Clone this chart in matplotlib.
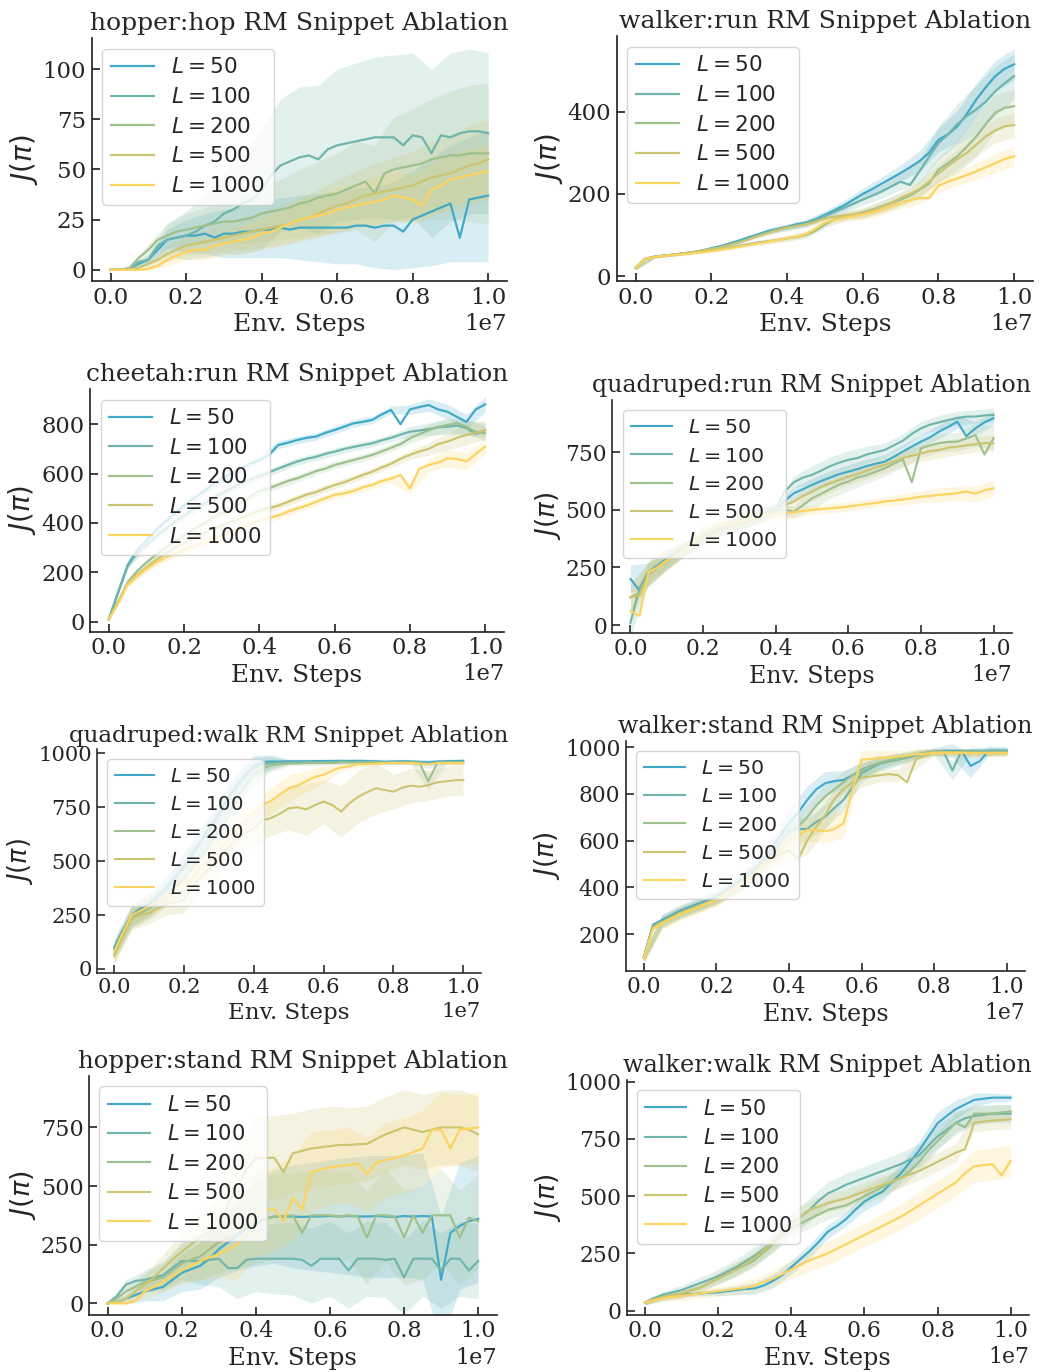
import numpy as np
import matplotlib
matplotlib.use("Agg")
import matplotlib.pyplot as plt

# ---------------- data ----------------
labels = ["$L = 50$", "$L = 100$", "$L = 200$", "$L = 500$", "$L = 1000$"]
colors = ["#41a9c8", "#6fb5ab", "#9dc08d", "#cbc470", "#fcd35f"]

steps_line = np.linspace(0, 1e7, 41)   # env steps where the mean curves are read
steps_band = np.linspace(0, 1e7, 21)   # env steps where the band half-widths are read

titles = ["hopper:hop", "walker:run", "cheetah:run", "quadruped:run",
          "quadruped:walk", "walker:stand", "hopper:stand", "walker:walk"]

hopper_hop_mean = [
    [0, 0, 0.5, 3, 5, 10, 15, 16, 17, 17, 18, 16, 18, 18, 19, 19, 20, 20, 21, 20, 21, 21, 21, 21, 21, 21, 22, 22, 21, 22, 22, 19, 25, 27, 29, 31, 33, 16, 35, 36, 37],
    [0, 0, 0.5, 4, 5, 12, 15, 16, 17, 19, 22, 24, 28, 30, 33, 35, 40, 47, 52, 54, 56, 57, 55, 60, 62, 63, 64, 65, 66, 66, 66, 62, 67, 66, 58, 67, 66, 68, 69, 69, 68],
    [0, 0, 1, 6, 10, 15, 17, 19, 20, 21, 22, 23, 24, 24, 25, 26, 28, 29, 30, 31, 33, 34, 36, 37, 38, 40, 42, 44, 38, 48, 50, 51, 52, 53, 55, 56, 57, 57, 58, 58, 58],
    [0, 0, 0, 1, 3, 5, 8, 10, 12, 13, 14, 15, 16, 17, 18, 19, 20, 21, 22, 23, 25, 26, 28, 30, 32, 33, 35, 37, 38, 39, 40, 41, 42, 44, 46, 47, 48, 50, 52, 53, 55],
    [0, 0, 0, 0, 0.5, 2, 5, 7, 9, 10, 10, 12, 13, 14, 15, 16, 18, 19, 21, 23, 25, 26, 27, 28, 30, 31, 32, 33, 34, 35, 37, 36, 35, 32, 40, 42, 45, 46, 47, 48, 49],
]
hopper_hop_band = [
    [0, 0, 2, 5, 8, 10, 12, 13, 14, 15, 16, 17, 18, 19, 20, 22, 24, 27, 29, 31, 33],
    [0, 0, 3, 8, 12, 16, 20, 25, 30, 33, 35, 37, 38, 39, 40, 41, 41, 42, 42, 41, 40],
    [0, 0, 3, 6, 8, 9, 10, 12, 14, 15, 17, 18, 20, 22, 24, 26, 28, 30, 32, 34, 35],
    [0, 0, 2, 4, 5, 6, 7, 8, 9, 10, 11, 12, 13, 14, 15, 16, 17, 18, 19, 20, 20],
    [0, 0, 1, 3, 4, 5, 6, 7, 8, 9, 10, 10, 11, 11, 12, 12, 12, 13, 13, 13, 13],
]

walker_run_mean = [
    [20, 42, 47, 50, 52, 55, 58, 62, 68, 73, 80, 87, 95, 102, 110, 115, 120, 126, 130, 138, 149, 160, 172, 186, 200, 212, 225, 238, 251, 265, 280, 300, 332, 345, 365, 395, 430, 460, 487, 505, 516],
    [20, 42, 47, 50, 52, 55, 58, 62, 67, 72, 78, 85, 92, 100, 108, 114, 118, 123, 128, 136, 146, 156, 166, 176, 186, 196, 206, 218, 230, 222, 255, 290, 324, 345, 370, 390, 406, 425, 450, 470, 487],
    [20, 42, 47, 50, 52, 55, 57, 60, 62, 66, 70, 74, 78, 82, 85, 88, 92, 95, 100, 110, 125, 138, 145, 150, 155, 162, 170, 178, 186, 196, 210, 225, 259, 275, 292, 315, 340, 370, 398, 410, 414],
    [20, 42, 47, 50, 52, 55, 58, 62, 66, 70, 76, 82, 90, 98, 105, 112, 118, 122, 126, 132, 140, 145, 148, 150, 152, 160, 168, 178, 190, 200, 212, 230, 250, 268, 285, 300, 320, 340, 355, 365, 368],
    [20, 42, 46, 49, 51, 53, 55, 58, 61, 64, 68, 72, 76, 80, 84, 88, 92, 96, 102, 115, 130, 137, 142, 146, 150, 155, 162, 170, 178, 185, 190, 190, 220, 230, 238, 246, 255, 265, 275, 285, 292],
]
walker_run_band = [
    [5, 3, 3, 3, 3, 4, 5, 6, 7, 8, 10, 12, 14, 16, 20, 25, 30, 38, 40, 38, 38],
    [5, 3, 3, 3, 3, 4, 5, 6, 7, 8, 10, 12, 14, 16, 20, 28, 40, 50, 60, 60, 55],
    [5, 3, 3, 3, 3, 4, 5, 6, 7, 8, 8, 10, 12, 14, 16, 20, 30, 40, 50, 45, 40],
    [5, 3, 3, 3, 3, 4, 5, 6, 7, 8, 8, 10, 12, 14, 16, 18, 22, 25, 28, 30, 30],
    [5, 3, 3, 3, 3, 4, 5, 6, 7, 8, 8, 10, 12, 12, 14, 14, 16, 18, 20, 22, 24],
]

cheetah_run_mean = [
    [10, 120, 230, 290, 330, 370, 405, 440, 470, 500, 525, 555, 580, 600, 620, 640, 655, 675, 716, 725, 736, 745, 750, 765, 777, 790, 804, 810, 818, 840, 858, 800, 860, 870, 878, 860, 851, 830, 810, 860, 881],
    [10, 120, 225, 280, 310, 345, 375, 405, 430, 455, 475, 500, 520, 540, 560, 575, 590, 605, 620, 635, 649, 660, 668, 680, 689, 700, 708, 716, 723, 735, 745, 758, 770, 775, 780, 788, 790, 795, 785, 760, 777],
    [10, 80, 160, 205, 240, 270, 300, 325, 350, 375, 395, 420, 440, 460, 480, 505, 530, 540, 555, 570, 581, 595, 610, 620, 635, 645, 655, 665, 676, 690, 705, 720, 743, 760, 775, 790, 797, 805, 790, 770, 763],
    [10, 80, 155, 190, 220, 250, 275, 300, 320, 340, 355, 375, 390, 405, 420, 435, 450, 460, 470, 485, 500, 515, 525, 540, 554, 565, 580, 595, 608, 625, 640, 660, 676, 690, 700, 720, 730, 745, 757, 765, 777],
    [10, 75, 150, 185, 215, 240, 260, 275, 290, 305, 320, 335, 350, 365, 380, 395, 410, 420, 430, 445, 459, 470, 485, 500, 514, 520, 530, 545, 554, 570, 580, 595, 540, 620, 635, 645, 662, 660, 649, 680, 709],
]
cheetah_run_band = [
    [5, 10, 15, 15, 15, 15, 15, 15, 15, 15, 15, 15, 15, 15, 15, 15, 20, 25, 30, 30, 30],
    [5, 10, 15, 15, 15, 15, 15, 15, 15, 15, 15, 15, 15, 15, 15, 15, 20, 25, 30, 30, 30],
    [5, 10, 15, 15, 15, 15, 15, 15, 15, 15, 15, 15, 15, 15, 15, 15, 20, 25, 30, 30, 30],
    [5, 10, 15, 15, 15, 15, 15, 15, 15, 15, 15, 15, 15, 15, 15, 15, 20, 25, 35, 40, 40],
    [5, 10, 15, 15, 15, 15, 15, 15, 15, 15, 15, 15, 15, 15, 15, 15, 20, 25, 35, 35, 30],
]

quadruped_run_mean = [
    [200, 150, 220, 250, 280, 300, 330, 360, 380, 400, 415, 430, 440, 455, 470, 485, 500, 540, 572, 590, 608, 625, 640, 655, 666, 677, 690, 700, 709, 730, 753, 775, 796, 815, 840, 860, 883, 820, 854, 880, 898],
    [10, 160, 230, 260, 290, 310, 335, 365, 385, 405, 420, 435, 445, 460, 475, 490, 505, 580, 620, 640, 652, 670, 690, 705, 717, 725, 740, 750, 760, 780, 800, 830, 854, 870, 880, 890, 898, 905, 905, 910, 912],
    [120, 140, 220, 250, 280, 300, 330, 360, 380, 400, 415, 430, 440, 455, 470, 485, 500, 500, 492, 520, 550, 570, 590, 610, 623, 640, 650, 665, 680, 700, 720, 620, 767, 780, 790, 795, 796, 810, 825, 740, 811],
    [120, 130, 220, 250, 280, 300, 330, 360, 380, 400, 415, 430, 440, 455, 470, 485, 500, 520, 536, 560, 579, 600, 615, 630, 644, 655, 670, 685, 695, 710, 725, 735, 745, 755, 760, 770, 774, 780, 785, 790, 789],
    [60, 40, 230, 250, 280, 300, 330, 360, 400, 420, 430, 440, 450, 460, 468, 475, 480, 485, 490, 495, 500, 503, 507, 510, 514, 520, 525, 530, 536, 540, 545, 550, 557, 560, 565, 568, 572, 580, 570, 585, 594],
]
quadruped_run_band = [
    [60, 50, 40, 30, 30, 30, 30, 30, 25, 25, 30, 30, 30, 30, 30, 30, 30, 30, 30, 30, 30],
    [60, 50, 40, 30, 30, 30, 30, 30, 25, 25, 40, 40, 40, 35, 30, 30, 30, 30, 30, 30, 30],
    [60, 50, 40, 30, 30, 30, 30, 30, 25, 25, 50, 40, 40, 35, 35, 35, 40, 40, 40, 50, 50],
    [60, 50, 40, 30, 30, 30, 30, 30, 25, 25, 40, 40, 35, 35, 35, 35, 35, 35, 35, 35, 35],
    [60, 50, 40, 30, 30, 30, 30, 30, 25, 25, 20, 20, 20, 20, 20, 25, 25, 30, 30, 35, 35],
]

quadruped_walk_mean = [
    [100, 180, 250, 280, 300, 340, 380, 430, 480, 540, 600, 660, 720, 790, 850, 900, 940, 960, 962, 962, 963, 963, 963, 964, 964, 964, 965, 964, 965, 964, 963, 960, 962, 963, 962, 960, 958, 962, 963, 964, 965],
    [90, 170, 240, 270, 290, 330, 370, 420, 470, 530, 590, 650, 710, 780, 840, 890, 930, 950, 955, 957, 958, 958, 960, 960, 960, 960, 962, 960, 960, 961, 960, 958, 960, 960, 960, 960, 950, 958, 960, 960, 960],
    [70, 160, 240, 260, 280, 310, 340, 380, 420, 470, 520, 580, 640, 700, 780, 850, 900, 930, 945, 950, 952, 953, 955, 955, 955, 955, 958, 958, 958, 958, 958, 955, 958, 955, 958, 955, 870, 955, 958, 958, 958],
    [60, 150, 230, 250, 260, 280, 300, 310, 320, 380, 430, 470, 500, 560, 600, 630, 650, 690, 700, 720, 745, 750, 740, 760, 776, 760, 730, 770, 799, 820, 838, 830, 822, 840, 850, 845, 853, 865, 870, 875, 876],
    [80, 170, 250, 270, 290, 310, 340, 370, 400, 430, 470, 510, 550, 600, 640, 680, 722, 760, 780, 810, 838, 850, 870, 890, 900, 920, 935, 940, 950, 950, 952, 955, 955, 955, 955, 952, 950, 955, 955, 955, 955],
]
quadruped_walk_band = [
    [40, 50, 50, 50, 60, 60, 60, 60, 50, 30, 10, 10, 10, 10, 10, 10, 10, 10, 10, 10, 10],
    [40, 50, 50, 50, 60, 60, 60, 60, 50, 30, 10, 10, 10, 10, 10, 10, 10, 10, 20, 10, 10],
    [40, 50, 50, 50, 60, 60, 60, 60, 50, 30, 10, 10, 10, 10, 10, 10, 10, 10, 40, 10, 10],
    [40, 50, 50, 50, 60, 60, 60, 60, 80, 80, 100, 120, 100, 120, 120, 120, 80, 80, 70, 70, 70],
    [40, 50, 50, 50, 60, 60, 60, 60, 60, 60, 60, 50, 40, 20, 15, 10, 10, 10, 10, 10, 10],
]

walker_stand_mean = [
    [100, 240, 260, 280, 300, 315, 330, 345, 360, 385, 410, 440, 470, 510, 560, 620, 674, 720, 774, 820, 846, 855, 860, 880, 903, 920, 931, 940, 953, 960, 967, 975, 981, 985, 985, 985, 920, 940, 985, 985, 985],
    [100, 235, 255, 275, 295, 310, 325, 340, 355, 380, 405, 435, 465, 500, 540, 590, 646, 650, 650, 680, 703, 740, 774, 830, 889, 910, 930, 940, 946, 955, 965, 975, 981, 985, 900, 985, 985, 985, 985, 985, 985],
    [100, 230, 250, 270, 290, 305, 320, 335, 350, 375, 400, 430, 460, 500, 540, 590, 640, 660, 700, 750, 790, 820, 850, 880, 900, 920, 935, 945, 950, 960, 970, 975, 980, 980, 980, 980, 980, 980, 980, 980, 980],
    [100, 230, 250, 270, 290, 305, 320, 335, 350, 375, 400, 430, 460, 490, 520, 540, 560, 520, 600, 660, 710, 780, 820, 850, 870, 875, 880, 885, 880, 850, 950, 965, 980, 980, 980, 980, 975, 975, 975, 975, 975],
    [95, 220, 245, 265, 285, 300, 315, 330, 345, 370, 395, 420, 450, 480, 520, 560, 603, 620, 646, 645, 640, 650, 674, 820, 946, 950, 955, 955, 960, 965, 970, 972, 975, 975, 975, 975, 975, 975, 975, 975, 975],
]
walker_stand_band = [
    [20, 25, 25, 25, 25, 30, 35, 45, 60, 60, 50, 40, 30, 25, 20, 15, 15, 30, 50, 20, 15],
    [20, 25, 25, 25, 25, 30, 35, 40, 50, 50, 50, 45, 40, 30, 25, 20, 15, 40, 15, 15, 15],
    [20, 25, 25, 25, 25, 30, 35, 40, 50, 50, 50, 45, 40, 30, 25, 20, 15, 15, 15, 15, 15],
    [20, 25, 25, 25, 25, 30, 35, 40, 50, 60, 60, 50, 40, 30, 25, 40, 15, 15, 15, 15, 15],
    [20, 25, 25, 25, 25, 30, 35, 40, 50, 50, 50, 60, 40, 30, 25, 20, 15, 15, 15, 15, 15],
]

hopper_stand_mean = [
    [0, 5, 20, 35, 50, 60, 70, 100, 130, 145, 160, 190, 230, 260, 290, 320, 340, 360, 370, 370, 370, 368, 370, 370, 372, 370, 372, 370, 370, 372, 370, 368, 372, 370, 372, 370, 100, 300, 330, 350, 360],
    [0, 30, 80, 95, 100, 110, 120, 150, 180, 180, 180, 185, 190, 150, 150, 185, 190, 190, 190, 190, 190, 185, 160, 190, 190, 190, 140, 190, 190, 190, 185, 190, 110, 190, 190, 190, 140, 190, 190, 140, 180],
    [0, 20, 50, 70, 90, 100, 110, 140, 170, 185, 200, 230, 260, 280, 300, 330, 350, 360, 370, 372, 375, 300, 375, 375, 375, 370, 375, 370, 280, 375, 375, 370, 280, 375, 300, 375, 375, 375, 280, 365, 350],
    [0, 5, 20, 50, 80, 110, 150, 185, 220, 250, 280, 305, 330, 420, 500, 570, 620, 620, 620, 560, 640, 650, 660, 665, 670, 675, 675, 678, 680, 700, 720, 735, 750, 740, 730, 740, 750, 750, 750, 740, 720],
    [0, 0, 0, 10, 50, 70, 90, 115, 140, 160, 180, 195, 210, 230, 250, 290, 380, 400, 400, 350, 450, 400, 560, 570, 580, 585, 590, 595, 550, 600, 610, 620, 630, 645, 660, 740, 740, 660, 740, 745, 750],
]
hopper_stand_band = [
    [0, 20, 40, 60, 80, 100, 120, 150, 180, 200, 220, 230, 240, 250, 260, 260, 260, 270, 270, 270, 270],
    [0, 20, 40, 60, 80, 100, 120, 130, 140, 150, 155, 160, 160, 160, 160, 160, 160, 160, 160, 160, 160],
    [0, 20, 40, 60, 80, 100, 130, 150, 180, 180, 180, 190, 190, 190, 200, 200, 200, 200, 200, 200, 200],
    [0, 20, 40, 60, 80, 100, 130, 150, 180, 180, 170, 170, 170, 160, 160, 160, 160, 160, 160, 160, 160],
    [0, 10, 30, 40, 60, 80, 100, 150, 180, 180, 180, 170, 160, 160, 160, 160, 160, 160, 160, 150, 150],
]

walker_walk_mean = [
    [35, 50, 60, 65, 70, 72, 75, 78, 80, 85, 90, 95, 97, 110, 130, 155, 190, 225, 260, 300, 345, 370, 400, 440, 476, 500, 520, 560, 600, 650, 700, 760, 818, 850, 880, 900, 920, 925, 930, 930, 930],
    [35, 55, 70, 80, 90, 105, 120, 135, 150, 170, 190, 215, 240, 270, 300, 340, 380, 410, 440, 480, 512, 530, 550, 565, 580, 595, 610, 625, 640, 660, 680, 720, 760, 790, 820, 840, 850, 855, 860, 860, 860],
    [35, 50, 60, 68, 75, 88, 100, 120, 140, 160, 180, 200, 220, 255, 290, 325, 360, 380, 400, 420, 440, 450, 460, 480, 500, 520, 540, 560, 580, 610, 650, 700, 740, 780, 820, 800, 860, 860, 860, 865, 870],
    [35, 50, 60, 68, 75, 88, 100, 120, 140, 160, 180, 205, 230, 265, 300, 340, 380, 410, 440, 455, 470, 480, 490, 505, 520, 535, 550, 565, 580, 595, 610, 630, 650, 670, 690, 705, 820, 825, 830, 832, 835],
    [35, 45, 55, 60, 65, 70, 75, 80, 85, 90, 95, 100, 110, 125, 140, 160, 180, 200, 220, 235, 250, 270, 290, 310, 330, 350, 370, 390, 410, 435, 460, 485, 510, 535, 560, 600, 630, 635, 640, 590, 655],
]
walker_walk_band = [
    [10, 10, 10, 10, 15, 20, 25, 30, 30, 30, 30, 30, 40, 40, 40, 40, 50, 40, 30, 20, 15],
    [10, 15, 20, 25, 30, 35, 40, 45, 50, 50, 50, 50, 50, 50, 50, 50, 50, 50, 40, 40, 40],
    [10, 15, 20, 20, 25, 30, 30, 35, 40, 40, 40, 40, 40, 40, 40, 40, 40, 40, 40, 35, 30],
    [10, 15, 20, 20, 25, 30, 30, 35, 40, 40, 40, 40, 40, 40, 40, 40, 40, 40, 40, 40, 40],
    [10, 15, 20, 20, 20, 25, 30, 35, 40, 45, 50, 50, 50, 55, 55, 60, 60, 60, 70, 70, 70],
]

all_means = [hopper_hop_mean, walker_run_mean, cheetah_run_mean, quadruped_run_mean,
             quadruped_walk_mean, walker_stand_mean, hopper_stand_mean, walker_walk_mean]
all_bands = [hopper_hop_band, walker_run_band, cheetah_run_band, quadruped_run_band,
             quadruped_walk_band, walker_stand_band, hopper_stand_band, walker_walk_band]

y_limits = [(-5.6, 115.5), (-12, 585), (-40.5, 943), (-33.4, 977),
            (-20, 1018.5), (43, 1028), (-50, 969), (-19, 1007)]
y_ticks = [[0, 25, 50, 75, 100], [0, 200, 400], [0, 200, 400, 600, 800], [0, 250, 500, 750],
           [0, 250, 500, 750, 1000], [200, 400, 600, 800, 1000], [0, 250, 500, 750],
           [0, 250, 500, 750, 1000]]

# axes boxes in pixels: left, right, top, bottom
boxes = [(91.7, 507, 38, 281), (616.7, 1033, 36, 281),
         (90, 504, 389, 631.7), (612.3, 1011.7, 400, 632.7),
         (96.7, 480.7, 749.3, 973.3), (625.7, 1025, 740.7, 970.7),
         (89, 496.7, 1076, 1315), (626.7, 1029, 1080, 1315)]
# each panel was rendered separately and scaled; relative text scale per panel
panel_scale = [1.0, 1.0, 0.99, 0.95, 0.92, 0.95, 0.975, 0.955]

# ---------------- style ----------------
W, H = 1039, 1372
DARK = "#262626"
plt.rcParams.update({
    "font.family": "DejaVu Serif",
    "mathtext.fontset": "dejavusans",
    "text.color": DARK,
    "axes.labelcolor": DARK,
    "xtick.color": DARK,
    "ytick.color": DARK,
    "axes.edgecolor": DARK,
})

fig = plt.figure(figsize=(W / 100, H / 100), dpi=100)

for k in range(8):
    l, r, t, b = boxes[k]
    s = panel_scale[k]
    ax = fig.add_axes([l / W, 1 - b / H, (r - l) / W, (b - t) / H])
    means = all_means[k]
    bands = all_bands[k]
    for j in range(5):
        m = np.array(means[j], dtype=float)
        hw = np.array(bands[j], dtype=float)
        mc = m[::2]
        ax.fill_between(steps_band, mc - hw, mc + hw, color=colors[j], alpha=0.2, linewidth=0)
    for j in range(5):
        ax.plot(steps_line, means[j], color=colors[j], lw=1.6 * s, label=labels[j])
    ax.set_xlim(-0.05e7, 1.05e7)
    ax.set_ylim(*y_limits[k])
    ax.set_yticks(y_ticks[k])
    ax.set_xticks([0, 0.2e7, 0.4e7, 0.6e7, 0.8e7, 1.0e7])
    ax.spines["top"].set_visible(False)
    ax.spines["right"].set_visible(False)
    for sp in ("left", "bottom"):
        ax.spines[sp].set_linewidth(1.25 * s)
    ax.tick_params(direction="in", length=6 * s, width=1.25 * s, labelsize=16.5 * s, pad=4 * s)
    ax.xaxis.get_offset_text().set_fontsize(16.5 * s)
    ax.set_title(titles[k] + " RM Snippet Ablation", fontsize=18 * s, pad=6 * s)
    ax.set_xlabel("Env. Steps", fontsize=18 * s, labelpad=3.5 * s)
    ax.set_ylabel(r"$J(\pi)$", fontsize=20 * s, labelpad=2)
    leg = ax.legend(loc="upper left", frameon=True, framealpha=0.8,
                    edgecolor="#cccccc", prop={"family": "DejaVu Sans", "size": 15.5 * s},
                    labelspacing=0.45)
    leg.get_frame().set_linewidth(1.0)

fig.savefig("out.png", dpi=100)
